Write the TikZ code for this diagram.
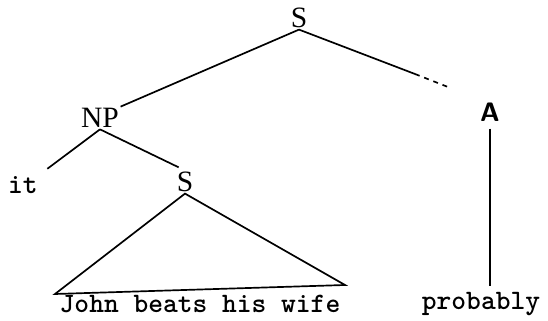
\documentclass[tikz,border=0pt]{standalone}
\usepackage{fontspec}
\setmainfont{Liberation Serif}
\begin{document}
\begin{tikzpicture}[x=0.025cm, y=-0.025cm]
    % Stili
    \tikzstyle{cat}=[inner sep=1pt, font=\fontsize{21}{22}\selectfont]
    \tikzstyle{word}=[inner sep=1pt, font=\ttfamily\bfseries\fontsize{20}{22}\selectfont]
    \tikzstyle{branch}=[line width=1.2pt]
    \tikzstyle{dots}=[line width=1.2pt, dash pattern=on 3.5pt off 3.5pt]

    \useasboundingbox (0,0) rectangle (548,321);

    % Categorie
    \node[cat] (s_top) at (299,18) {S};
    \node[cat] (np) at (100,118) {NP};
    \node[cat] (s_low) at (185,182) {S};
    \node[cat, font=\sffamily\bfseries\fontsize{19}{20}\selectfont] (adv) at (490,112) {A};

    % Parole
    \node[word] (w_it) at (23,185) {it};
    \node[word] (w_clause) at (200,304) {John beats his wife};
    \node[word] (w_prob) at (481,304) {probably};

    % Punti liberi
    \coordinate (dash_a) at (415,74);
    \coordinate (dash_b) at (448,87);
    \coordinate (tri_l) at (55,294);
    \coordinate (tri_r) at (345,285);

    % Rami
    \draw[branch] (s_top.south) -- (np.north east);
    \draw[branch] (s_top.south) -- (dash_a);
    \draw[dots] (dash_a) -- (dash_b);
    \draw[branch, shorten >=7pt] (np.south) -- (w_it.north east);
    \draw[branch, shorten >=5pt] (np.south) -- (s_low.north);
    \draw[branch] (s_low.south) -- (tri_l) -- (tri_r) -- cycle;
    \draw[branch, shorten <=4pt, shorten >=3pt] (adv.south) -- (w_prob.north -| adv.south);
\end{tikzpicture}
\end{document}
